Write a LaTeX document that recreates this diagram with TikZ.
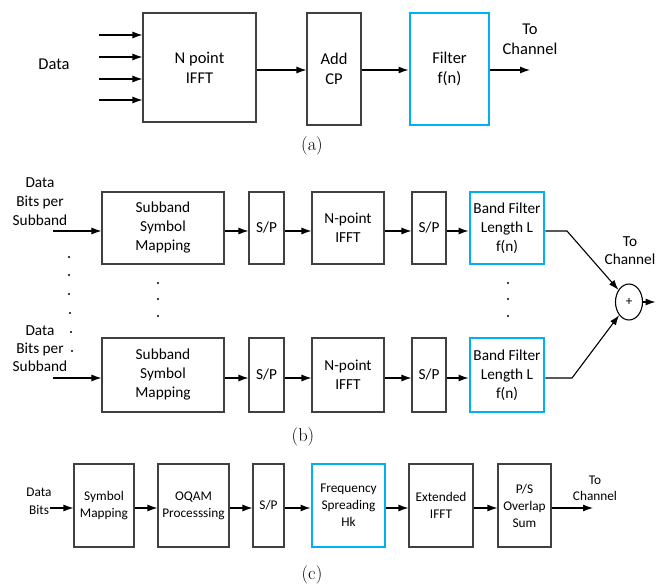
\documentclass[tikz,border=0pt]{standalone}
\usepackage{fontspec}
\newfontfamily\calib{Carlito}
\usetikzlibrary{arrows.meta,shapes.geometric}
\definecolor{boxgray}{HTML}{404040}
\definecolor{filterblue}{HTML}{00B0F0}
\begin{document}
\begin{tikzpicture}[x=1pt,y=-1pt,
  box/.style={draw=boxgray, line width=1.1pt, inner sep=0pt, align=center},
  bluebox/.style={draw=filterblue, line width=2.9pt, inner sep=0pt, align=center},
  arr/.style={-{Latex[length=10pt,width=7pt]}, line width=1.1pt},
  lab/.style={align=center, inner sep=0pt},
  fa/.style={font=\calib\fontsize{16.5}{20}\selectfont},
  fb/.style={font=\calib\fontsize{15.3}{19}\selectfont},
  fc/.style={font=\calib\fontsize{13.3}{17}\selectfont},
  captxt/.style={inner sep=0pt, font=\fontsize{18.5}{20}\selectfont},
  dotfill/.style={fill=black}
]
\useasboundingbox (0,0) rectangle (656,585);

% ---------------- (a) ----------------
\node[box, fa, minimum width=113, minimum height=109] (ifft) at (199.5,67.5) {N point\\IFFT};
\node[box, fa, minimum width=54, minimum height=112] (addcp) at (334,69) {Add\\CP};
\node[bluebox, fa, minimum width=79, minimum height=112] (filt) at (449.5,69) {Filter\\f(n)};
\node[lab, fa] (dataa) at (54,64) {Data};
\node[lab, fa] (toa) at (530,39) {To\\Channel};
\node[captxt] (capa) at (312,146) {(a)};
\coordinate (d1) at (99,35);
\coordinate (d2) at (99,57);
\coordinate (d3) at (99,79);
\coordinate (d4) at (99,100);
\foreach \d in {d1,d2,d3,d4} \draw[arr] (\d) -- (\d -| ifft.west);
\coordinate (ra) at (0,70);
\coordinate (outa) at (530,70);
\draw[arr] (ifft.east |- ra) -- (addcp.west |- ra);
\draw[arr] (addcp.east |- ra) -- (filt.west |- ra);
\draw[arr] (filt.east |- ra) -- (outa);

% ---------------- (b) ----------------
\node[box, fb, minimum width=122, minimum height=72] (ssm1) at (163,228) {Subband\\Symbol\\Mapping};
\node[box, fb, minimum width=35, minimum height=72] (spa1) at (266.5,228) {S/P};
\node[box, fb, minimum width=72, minimum height=72] (nif1) at (348,228) {N-point\\IFFT};
\node[box, fb, minimum width=34, minimum height=72] (spb1) at (429,228) {S/P};
\node[bluebox, fb, minimum width=74, minimum height=72] (bf1) at (507,228) {Band Filter\\Length L\\f(n)};

\node[box, fb, minimum width=122, minimum height=74] (ssm2) at (163,375) {Subband\\Symbol\\Mapping};
\node[box, fb, minimum width=35, minimum height=74] (spa2) at (266.5,375) {S/P};
\node[box, fb, minimum width=72, minimum height=74] (nif2) at (348,375) {N-point\\IFFT};
\node[box, fb, minimum width=34, minimum height=74] (spb2) at (429,375) {S/P};
\node[bluebox, fb, minimum width=74, minimum height=74] (bf2) at (507,375) {Band Filter\\Length L\\f(n)};

\node[lab, fb] (datb1) at (40,202) {Data\\Bits per\\Subband};
\node[lab, font=\calib\fontsize{15.3}{18}\selectfont] (datb2) at (40,349) {Data\\Bits per\\Subband};

\node[draw, line width=1.1pt, ellipse, minimum width=27, minimum height=36, inner sep=0pt,
      font=\calib\fontsize{13}{13}\selectfont] (sum) at (629,302) {+};
\node[lab, font=\calib\fontsize{15.3}{18}\selectfont] (tob) at (630,250.5) {To\\Channel};
\node[captxt] (capb) at (303,437) {(b)};

\coordinate (rb1) at (0,231);
\coordinate (rb2) at (0,378);
\coordinate (inb1) at (53,231);
\coordinate (inb2) at (53,378);
\coordinate (k1) at (567,231);
\coordinate (k2) at (572,378);
\coordinate (outb) at (655.5,302);

\draw[arr] (inb1) -- (ssm1.west |- rb1);
\draw[arr] (ssm1.east |- rb1) -- (spa1.west |- rb1);
\draw[arr] (spa1.east |- rb1) -- (nif1.west |- rb1);
\draw[arr] (nif1.east |- rb1) -- (spb1.west |- rb1);
\draw[arr] (spb1.east |- rb1) -- (bf1.west |- rb1);
\draw[arr] (bf1.east |- rb1) -- (k1) -- (sum);

\draw[arr] (inb2) -- (ssm2.west |- rb2);
\draw[arr] (ssm2.east |- rb2) -- (spa2.west |- rb2);
\draw[arr] (spa2.east |- rb2) -- (nif2.west |- rb2);
\draw[arr] (nif2.east |- rb2) -- (spb2.west |- rb2);
\draw[arr] (spb2.east |- rb2) -- (bf2.west |- rb2);
\draw[arr] (bf2.east |- rb2) -- (k2) -- (sum);

\draw[arr] (sum.east) -- (outb);

% dots
\foreach \x/\y in {69/257,69/275,69/294,70/313,71/332,72/351} \fill[dotfill] (\x,\y) circle (1.1pt);
\foreach \y in {283,299,316} {
  \fill[dotfill] (158,\y) circle (1.1pt);
  \fill[dotfill] (508,\y) circle (1.1pt);
}

% ---------------- (c) ----------------
\node[box, fc, minimum width=60, minimum height=83] (sm) at (104,505.5) {Symbol\\Mapping};
\node[box, fc, minimum width=71, minimum height=83] (oqam) at (193.5,505.5) {OQAM\\Processsing};
\node[box, fc, minimum width=31, minimum height=83] (spc) at (268.5,505.5) {S/P};
\node[bluebox, fc, minimum width=73, minimum height=83] (fs) at (348.5,505.5) {Frequency\\Spreading\\Hk};
\node[box, fc, minimum width=64, minimum height=83] (eifft) at (441,505.5) {Extended\\IFFT};
\node[box, fc, minimum width=53, minimum height=83] (ps) at (524.5,505.5) {P/S\\Overlap\\Sum};
\node[lab, font=\calib\fontsize{13.3}{18}\selectfont] (datc) at (39,501) {Data\\Bits};
\node[lab, font=\calib\fontsize{13.3}{16}\selectfont] (toc) at (595,488) {To\\Channel};
\node[captxt] (capc) at (312,575) {(c)};

\coordinate (rc) at (0,508);
\coordinate (inc) at (50,508);
\coordinate (outc) at (593,508);
\draw[arr] (inc) -- (sm.west |- rc);
\draw[arr] (sm.east |- rc) -- (oqam.west |- rc);
\draw[arr] (oqam.east |- rc) -- (spc.west |- rc);
\draw[arr] (spc.east |- rc) -- (fs.west |- rc);
\draw[arr] (fs.east |- rc) -- (eifft.west |- rc);
\draw[arr] (eifft.east |- rc) -- (ps.west |- rc);
\draw[arr] (ps.east |- rc) -- (outc);
\end{tikzpicture}
\end{document}
